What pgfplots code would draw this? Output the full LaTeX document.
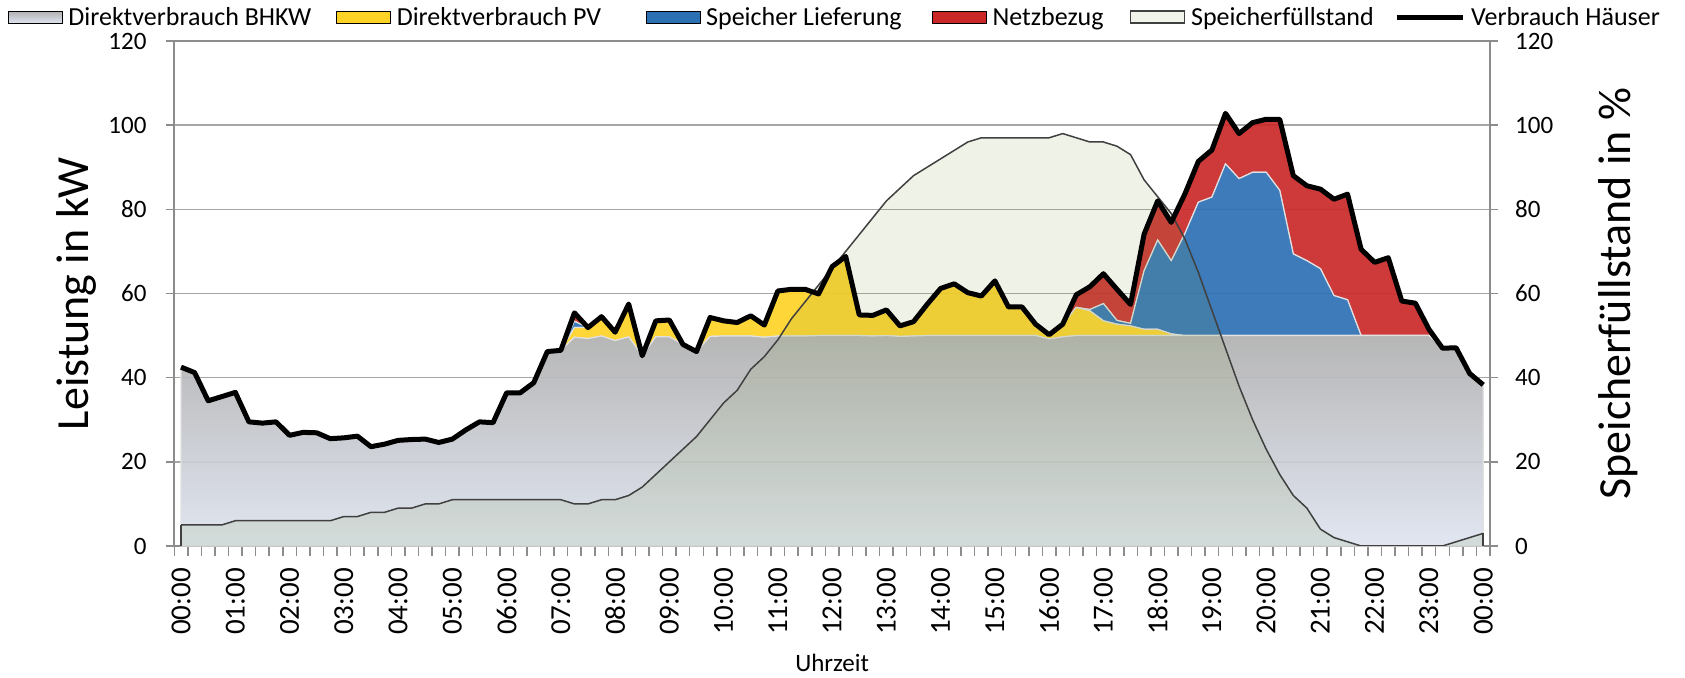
\documentclass[border=0pt]{standalone}
\usepackage{pgfplots}
\pgfplotsset{compat=1.18}
\usepackage{pgfplotstable}
\usepackage{fontspec}
\setmainfont{Carlito}

\definecolor{bhkwtop}{RGB}{176,176,176}
\definecolor{bhkwbot}{RGB}{222,228,240}
\definecolor{pvclr}{RGB}{255,210,38}
\definecolor{spclr}{RGB}{44,112,180}
\definecolor{netzclr}{RGB}{202,40,40}
\definecolor{socfill}{RGB}{120,150,60}
\definecolor{socleg}{RGB}{240,243,234}
\definecolor{socline}{RGB}{64,64,64}
\definecolor{edgeclr}{RGB}{225,225,225}
\definecolor{gridclr}{RGB}{166,166,166}
\definecolor{axisclr}{RGB}{140,140,140}

\pgfplotsset{
  boxleg/.style={legend image code/.code={\draw[##1] (0pt,-6pt) rectangle (54pt,6pt);}},
  lineleg/.style={legend image code/.code={\draw[##1] (0pt,0pt) -- (66pt,0pt);}},
}

\pgfplotstableread{
x bhkw pv sp netz total soc
0 42.5 0 0 0 42.5 5
1 41.2 0 0 0 41.2 5
2 34.5 0 0 0 34.5 5
3 35.5 0 0 0 35.5 5
4 36.5 0 0 0 36.5 6
5 29.5 0 0 0 29.5 6
6 29.2 0 0 0 29.2 6
7 29.5 0 0 0 29.5 6
8 26.3 0 0 0 26.3 6
9 27.0 0 0 0 27.0 6
10 26.9 0 0 0 26.9 6
11 25.5 0 0 0 25.5 6
12 25.7 0 0 0 25.7 7
13 26.1 0 0 0 26.1 7
14 23.6 0 0 0 23.6 8
15 24.2 0 0 0 24.2 8
16 25.1 0 0 0 25.1 9
17 25.3 0 0 0 25.3 9
18 25.4 0 0 0 25.4 10
19 24.6 0 0 0 24.6 10
20 25.4 0 0 0 25.4 11
21 27.6 0 0 0 27.6 11
22 29.5 0 0 0 29.5 11
23 29.3 0 0 0 29.3 11
24 36.4 0 0 0 36.4 11
25 36.4 0 0 0 36.4 11
26 38.8 0 0 0 38.8 11
27 46.2 0 0 0 46.2 11
28 46.5 0 0 0 46.5 11
29 49.6 2.3 1.5 2.0 55.4 10
30 49.3 2.6 0 0 51.9 10
31 49.9 4.6 0 0 54.5 11
32 48.8 2.0 0 0 50.8 11
33 49.7 7.8 0 0 57.5 12
34 45.2 0 0 0 45.2 14
35 49.7 3.8 0 0 53.5 17
36 49.7 4.0 0 0 53.7 20
37 47.9 0 0 0 47.9 23
38 46.2 0 0 0 46.2 26
39 49.8 4.5 0 0 54.3 30
40 49.9 3.6 0 0 53.5 34
41 49.9 3.2 0 0 53.1 37
42 49.9 4.8 0 0 54.7 42
43 49.6 2.9 0 0 52.5 45
44 49.9 10.7 0 0 60.6 49
45 49.9 11.1 0 0 61.0 54
46 49.9 11.1 0 0 61.0 58
47 50.0 9.9 0 0 59.9 62
48 50.0 16.4 0 0 66.4 66
49 50.0 18.8 0 0 68.8 70
50 50.0 4.9 0 0 54.9 74
51 49.9 4.9 0 0 54.8 78
52 50.0 6.1 0 0 56.1 82
53 49.8 2.5 0 0 52.3 85
54 49.9 3.4 0 0 53.3 88
55 50.0 7.4 0 0 57.4 90
56 50.0 11.2 0 0 61.2 92
57 50.0 12.3 0 0 62.3 94
58 50.0 10.2 0 0 60.2 96
59 50.0 9.4 0 0 59.4 97
60 50.0 13.0 0 0 63.0 97
61 50.0 6.8 0 0 56.8 97
62 50.0 6.8 0 0 56.8 97
63 50.0 2.7 0 0 52.7 97
64 49.2 1.0 0 0 50.2 97
65 49.7 3.0 0 0 52.7 98
66 50.0 6.7 0 3.0 59.7 97
67 50.0 5.9 0.3 5.4 61.6 96
68 50.0 3.5 4.1 7.1 64.7 96
69 50.0 2.7 0.9 7.4 61.0 95
70 50.0 2.3 0.6 4.5 57.4 93
71 50.0 1.5 13.9 8.7 74.1 87
72 50.0 1.5 21.2 9.3 82.0 83
73 50.0 0.4 17.4 9.1 76.9 79
74 50.0 0 24.2 9.4 83.6 73
75 50.0 0 31.7 9.7 91.4 65
76 50.0 0 32.9 11.2 94.1 56
77 50.0 0 40.8 12.0 102.8 47
78 50.0 0 37.3 10.7 98.0 38
79 50.0 0 38.8 11.8 100.6 30
80 50.0 0 38.8 12.6 101.4 23
81 50.0 0 34.5 16.9 101.4 17
82 50.0 0 19.4 18.6 88.0 12
83 50.0 0 17.8 17.8 85.6 9
84 50.0 0 15.9 18.9 84.8 4
85 50.0 0 9.5 22.9 82.4 2
86 50.0 0 8.5 25.1 83.6 1
87 50.0 0 0 20.5 70.5 0
88 50.0 0 0 17.4 67.4 0
89 50.0 0 0 18.5 68.5 0
90 50.0 0 0 8.2 58.2 0
91 50.0 0 0 7.7 57.7 0
92 50.0 0 0 1.5 51.5 0
93 47.0 0 0 0 47.0 0
94 47.1 0 0 0 47.1 1
95 41.0 0 0 0 41.0 2
96 38.3 0 0 0 38.3 3
}\data

\begin{document}
\begin{tikzpicture}
\path[use as bounding box] (0pt,0pt) rectangle (1685pt,677pt);

\begin{axis}[
  at={(174.3pt,131pt)}, anchor=south west,
  width=1315.7pt, height=505pt, scale only axis,
  xmin=-0.5, xmax=96.5, ymin=0, ymax=120,
  stack plots=y,
  ytick={0,20,...,120},
  ymajorgrids,
  grid style={draw=gridclr, line width=1.5pt},
  axis line style={draw=axisclr, line width=2pt},
  tick style={draw=axisclr, line width=1.5pt},
  tick align=outside,
  xtick pos=left, ytick pos=left,
  major tick length=8pt, minor tick length=10pt,
  xtick={0,4,...,96},
  xticklabels={00:00,01:00,02:00,03:00,04:00,05:00,06:00,07:00,08:00,09:00,10:00,11:00,12:00,13:00,14:00,15:00,16:00,17:00,18:00,19:00,20:00,21:00,22:00,23:00,00:00},
  minor xtick={-0.5,0.5,...,96.5},
  every major x tick/.append style={draw=none},
  xticklabel style={rotate=90, anchor=east, inner sep=0pt, font=\fontsize{29}{30}\selectfont},
  xticklabel shift=14pt,
  yticklabel style={anchor=east, inner sep=0pt, font=\fontsize{25}{30}\selectfont},
  yticklabel shift=19.6pt,
  /pgf/number format/assume math mode=true,
  every axis y label/.style={at={(axis description cs:-0.074,0.5)}, rotate=90, anchor=center, font=\fontsize{46}{50}\selectfont},
  ylabel={Leistung in kW},
  every axis x label/.style={at={(axis description cs:0.5,-0.2317)}, anchor=center, inner sep=0pt, font=\fontsize{25}{30}\selectfont},
  xlabel={Uhrzeit},
]
\addplot[draw=edgeclr, line width=1.2pt, top color=bhkwtop, bottom color=bhkwbot, fill opacity=0.92] table[x=x,y=bhkw]{\data} \closedcycle;
\addplot[draw=edgeclr, line width=1.2pt, fill=pvclr, fill opacity=0.92] table[x=x,y=pv]{\data} \closedcycle;
\addplot[draw=edgeclr, line width=1.2pt, fill=spclr, fill opacity=0.92] table[x=x,y=sp]{\data} \closedcycle;
\addplot[draw=edgeclr, line width=1.2pt, fill=netzclr, fill opacity=0.92] table[x=x,y=netz]{\data} \closedcycle;
\end{axis}

\begin{axis}[
  at={(174.3pt,131pt)}, anchor=south west,
  width=1315.7pt, height=505pt, scale only axis,
  xmin=-0.5, xmax=96.5, ymin=0, ymax=120,
  hide x axis,
  axis y line*=right,
  axis line style={-, draw=axisclr, line width=2pt},
  tick style={draw=axisclr, line width=1.5pt},
  tick align=outside,
  major tick length=8pt,
  ytick={0,20,...,120},
  yticklabel style={anchor=west, inner sep=0pt, font=\fontsize{25}{30}\selectfont},
  yticklabel shift=17pt,
  /pgf/number format/assume math mode=true,
  every axis y label/.style={at={(axis description cs:1.0973,0.5)}, rotate=90, anchor=center, font=\fontsize{46}{50}\selectfont},
  ylabel={Speicherfüllstand in \%},
  legend columns=6,
  legend cell align=left,
  legend style={at={(-0.1264,1.0475)}, anchor=west, draw=none, fill=none,
    inner sep=0pt, outer sep=0pt, font=\fontsize{26}{30}\selectfont,
    nodes={inner sep=0pt},
    /tikz/every odd column/.append style={column sep=6pt},
    /tikz/every even column/.append style={column sep=0pt}},
]
\addplot[forget plot, draw=none, fill=socfill, fill opacity=0.12] table[x=x,y=soc]{\data} \closedcycle;
\addplot[forget plot, draw=socline, line width=1.5pt] table[x=x,y=soc]{\data};
\addplot[forget plot, draw=socline, line width=1.5pt] coordinates {(0,0) (0,5)};
\addplot[forget plot, draw=socline, line width=1.5pt] coordinates {(96,3) (96,0)};
\addplot[forget plot, black, line width=5pt, line join=round] table[x=x,y=total]{\data};

\addlegendimage{boxleg, draw=none, top color=bhkwtop, bottom color=bhkwbot}
\addlegendentry{\makebox[268pt][l]{Direktverbrauch BHKW}}
\addlegendimage{boxleg, draw=none, fill=pvclr}
\addlegendentry{\makebox[249pt][l]{Direktverbrauch PV}}
\addlegendimage{boxleg, draw=none, fill=spclr}
\addlegendentry{\makebox[226pt][l]{Speicher Lieferung}}
\addlegendimage{boxleg, draw=none, fill=netzclr}
\addlegendentry{\makebox[137pt][l]{Netzbezug}}
\addlegendimage{boxleg, draw=socline, line width=1.5pt, fill=socleg}
\addlegendentry{\makebox[203pt][l]{Speicherfüllstand}}
\addlegendimage{lineleg, black, line width=5pt}
\addlegendentry{Verbrauch Häuser}
\end{axis}
\end{tikzpicture}
\end{document}
